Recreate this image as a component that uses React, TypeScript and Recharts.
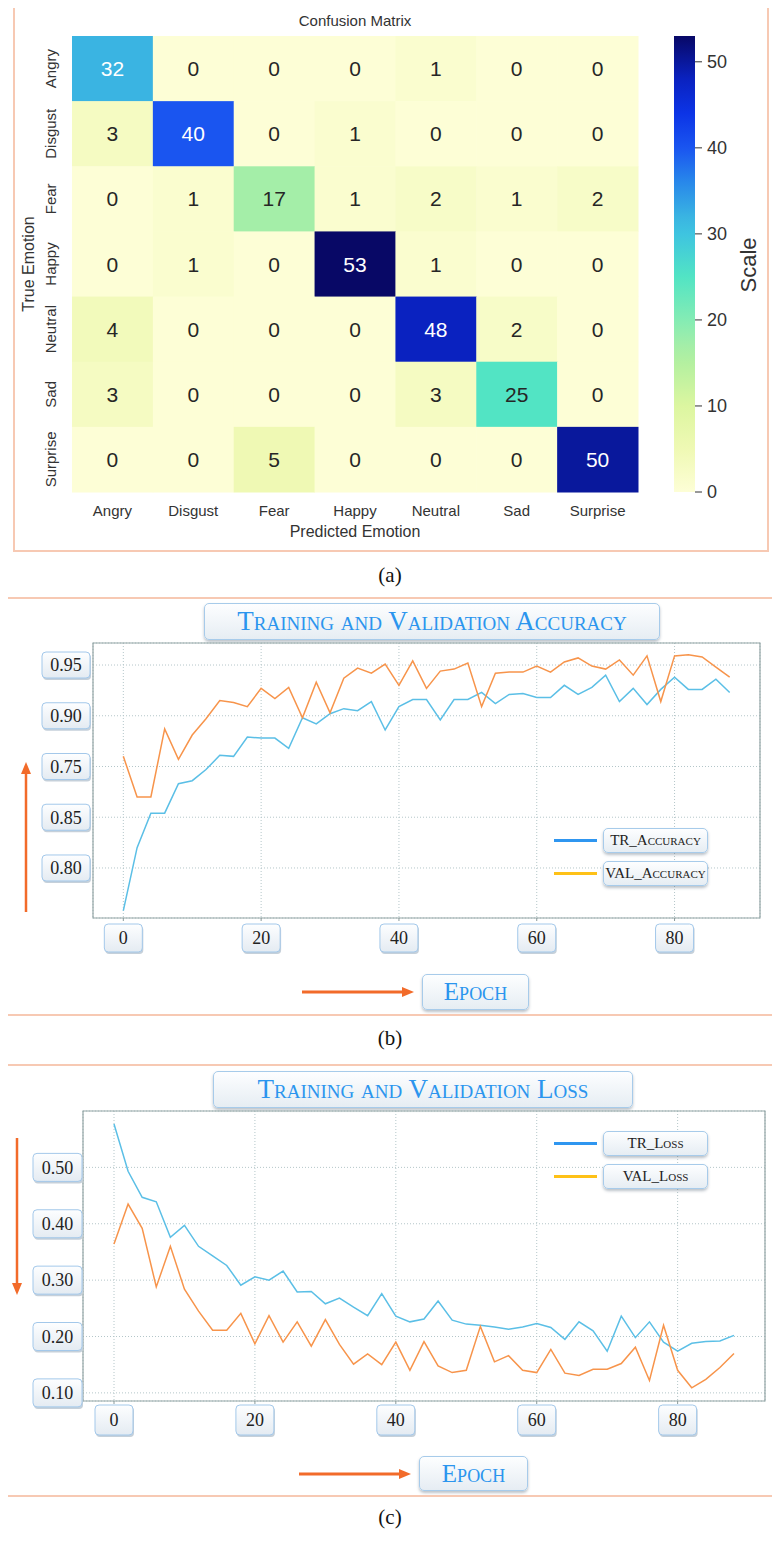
import React from "react"
import {
  ScatterChart,
  Scatter,
  BarChart,
  Bar,
  LineChart,
  Line,
  XAxis,
  YAxis,
  CartesianGrid,
  ReferenceArea,
  Legend,
} from "recharts"

// ---------- data ----------
const emotions = ["Angry", "Disgust", "Fear", "Happy", "Neutral", "Sad", "Surprise"]

// rows = true emotion, columns = predicted emotion
const angryRow = [32, 0, 0, 0, 1, 0, 0]
const disgustRow = [3, 40, 0, 1, 0, 0, 0]
const fearRow = [0, 1, 17, 1, 2, 1, 2]
const happyRow = [0, 1, 0, 53, 1, 0, 0]
const neutralRow = [4, 0, 0, 0, 48, 2, 0]
const sadRow = [3, 0, 0, 0, 3, 25, 0]
const surpriseRow = [0, 0, 5, 0, 0, 0, 50]
const confusion = [angryRow, disgustRow, fearRow, happyRow, neutralRow, sadRow, surpriseRow]

const scaleMax = 53
const scaleTicks = [0, 10, 20, 30, 40, 50]
const scaleStops = [0, 5, 10, 15, 17, 20, 25, 30, 32, 36, 40, 44, 48, 53]
const scaleColors = [
  "#fdfed6", "#eff9b4", "#dcf6a0", "#b4f0a0", "#a4eea8", "#84ecb4", "#52e4c4",
  "#3ec4e0", "#3ab4e2", "#2888ea", "#1a55f0", "#0c34e6", "#0a22c0", "#080866",
]

const epochs = [
  0, 2, 4, 6, 8, 10, 12, 14, 16, 18, 20, 22, 24, 26, 28, 30, 32, 34, 36, 38, 40, 42, 44,
  46, 48, 50, 52, 54, 56, 58, 60, 62, 64, 66, 68, 70, 72, 74, 76, 78, 80, 82, 84, 86, 88,
]
const epochTicks = [0, 20, 40, 60, 80]

const trAccuracy = [
  0.708, 0.77, 0.804, 0.804, 0.833, 0.836, 0.847, 0.861, 0.86, 0.879, 0.878, 0.878, 0.868,
  0.898, 0.892, 0.902, 0.907, 0.905, 0.914, 0.886, 0.909, 0.916, 0.916, 0.896, 0.916, 0.916,
  0.923, 0.912, 0.921, 0.922, 0.918, 0.918, 0.93, 0.921, 0.928, 0.94, 0.914, 0.927, 0.911,
  0.926, 0.938, 0.926, 0.926, 0.936, 0.923,
]
const valAccuracy = [
  0.86, 0.82, 0.82, 0.887, 0.857, 0.881, 0.897, 0.915, 0.913, 0.909, 0.927, 0.917, 0.928,
  0.898, 0.933, 0.903, 0.937, 0.947, 0.942, 0.951, 0.93, 0.954, 0.927, 0.944, 0.946, 0.952,
  0.909, 0.942, 0.943, 0.943, 0.949, 0.943, 0.953, 0.957, 0.949, 0.946, 0.955, 0.94, 0.959,
  0.914, 0.959, 0.96, 0.958, 0.948, 0.938,
]
const accTickValues = [0.75, 0.8, 0.85, 0.9, 0.95]
const accTickLabels = ["0.80", "0.85", "0.75", "0.90", "0.95"]

const trLoss = [
  0.577, 0.493, 0.447, 0.439, 0.376, 0.397, 0.36, 0.343, 0.326, 0.291, 0.306, 0.3, 0.316,
  0.279, 0.28, 0.258, 0.268, 0.252, 0.237, 0.276, 0.236, 0.226, 0.231, 0.263, 0.229, 0.222,
  0.22, 0.217, 0.213, 0.217, 0.223, 0.216, 0.195, 0.226, 0.21, 0.174, 0.236, 0.198, 0.226,
  0.19, 0.174, 0.188, 0.191, 0.192, 0.202,
]
const valLoss = [
  0.364, 0.435, 0.392, 0.288, 0.36, 0.284, 0.245, 0.211, 0.211, 0.241, 0.187, 0.237, 0.19,
  0.226, 0.183, 0.23, 0.186, 0.151, 0.169, 0.15, 0.19, 0.14, 0.191, 0.148, 0.136, 0.14,
  0.218, 0.155, 0.166, 0.14, 0.136, 0.177, 0.135, 0.131, 0.142, 0.142, 0.152, 0.181, 0.122,
  0.22, 0.14, 0.109, 0.124, 0.145, 0.17,
]
const lossTicks = [0.1, 0.2, 0.3, 0.4, 0.5]
const lossTickLabels = ["0.10", "0.20", "0.30", "0.40", "0.50"]

// ---------- helpers ----------
const SERIF = '"Liberation Serif", "Times New Roman", serif'
const SANS = '"Liberation Sans", Arial, sans-serif'
const ORANGE = "#f26b2a"
const PANEL = "#f7c9b3"
const TITLE_BLUE = "#2b95ee"
const legendColors = ["#2f96f0", "#fec117"]

function hexToRgb(h: string) {
  const n = parseInt(h.slice(1), 16)
  return [(n >> 16) & 255, (n >> 8) & 255, n & 255]
}

function colorFor(v: number) {
  for (let i = 1; i < scaleStops.length; i++) {
    if (v <= scaleStops[i]) {
      const t = (v - scaleStops[i - 1]) / (scaleStops[i] - scaleStops[i - 1])
      const a = hexToRgb(scaleColors[i - 1])
      const b = hexToRgb(scaleColors[i])
      const c = a.map((x, k) => Math.round(x + (b[k] - x) * t))
      return `rgb(${c[0]},${c[1]},${c[2]})`
    }
  }
  return scaleColors[scaleColors.length - 1]
}

const cells = confusion.flatMap((r, ri) => r.map((v, ci) => ({ row: ri, col: ci, value: v })))
const accData = epochs.map((e, i) => ({ epoch: e, tr: trAccuracy[i], val: valAccuracy[i] }))
const lossData = epochs.map((e, i) => ({ epoch: e, tr: trLoss[i], val: valLoss[i] }))

// heatmap plot area (page coords, chart sits at 0,0)
const HM = { left: 72, top: 36, right: 638, bottom: 492 }
const cellW = (HM.right - HM.left) / emotions.length
const cellH = (HM.bottom - HM.top) / emotions.length

const boxStyle: React.CSSProperties = {
  position: "absolute",
  boxSizing: "border-box",
  border: "1px solid #a7cbea",
  borderRadius: 5,
  background: "linear-gradient(#fdfeff, #e6edf3)",
  boxShadow: "0 2px 3px rgba(60,80,100,0.35)",
  display: "flex",
  alignItems: "center",
  justifyContent: "center",
  fontFamily: SERIF,
  fontVariant: "small-caps",
  whiteSpace: "nowrap",
}

function TickBox({ cx, cy, w, h, label, gradId }: any) {
  return (
    <g>
      <rect x={cx - w / 2 + 1} y={cy - h / 2 + 2} width={w} height={h} rx={4} fill="#c5d0da" />
      <rect x={cx - w / 2} y={cy - h / 2} width={w} height={h} rx={4} fill={`url(#${gradId})`} stroke="#a3c8ea" />
      <text x={cx} y={cy} dy="0.35em" textAnchor="middle" fontSize={18} fontFamily={SERIF} fill="#222">
        {label}
      </text>
    </g>
  )
}

function HeatCell(props: any) {
  const { cx, cy, payload } = props
  const v = payload.value
  return (
    <g>
      <rect x={cx - cellW / 2} y={cy - cellH / 2} width={cellW + 0.5} height={cellH + 0.5} fill={colorFor(v)} />
      <text
        x={cx}
        y={cy}
        dy="0.36em"
        textAnchor="middle"
        fontSize={21}
        fontFamily={SANS}
        fill={v >= 30 ? "#ffffff" : "#262626"}
      >
        {v}
      </text>
    </g>
  )
}

function legendContent(props: any) {
  const { payload } = props
  return (
    <div style={{ position: "relative" }}>
      {(payload || []).map((p: any, i: number) => (
        <div key={p.value} style={{ display: "flex", alignItems: "center", height: 25, marginBottom: 8 }}>
          <div style={{ width: 43, height: 3, background: legendColors[i], marginRight: 6 }} />
          <div style={{ ...boxStyle, position: "relative", width: 105, height: 25, fontSize: 15, color: "#222" }}>
            {p.value}
          </div>
        </div>
      ))}
    </div>
  )
}

function GradDefs({ id }: { id: string }) {
  return (
    <defs>
      <linearGradient id={id} x1="0" y1="0" x2="0" y2="1">
        <stop offset="0" stopColor="#fdfeff" />
        <stop offset="1" stopColor="#e4ebf2" />
      </linearGradient>
    </defs>
  )
}

export default function App() {
  return (
    <div style={{ position: "relative", width: 780, height: 1541, margin: -8, background: "#fff", overflow: "hidden" }}>
      {/* (a) confusion matrix */}
      <div style={{ position: "absolute", left: 355, top: 20, transform: "translate(-50%,-50%)", fontFamily: SANS, fontSize: 15, color: "#333", whiteSpace: "nowrap" }}>
        Confusion Matrix
      </div>
      <div style={{ position: "absolute", left: 0, top: 0 }}>
        <ScatterChart
          width={780}
          height={560}
          margin={{ top: HM.top, right: 780 - HM.right, bottom: 560 - HM.bottom - 30, left: HM.left - 40 }}
        >
          <XAxis
            type="number"
            dataKey="col"
            domain={[-0.5, emotions.length - 0.5]}
            ticks={emotions.map((_, i) => i)}
            interval={0}
            height={30}
            axisLine={false}
            tickLine={false}
            tick={(p: any) => (
              <text x={p.x} y={HM.bottom + 24} textAnchor="middle" fontSize={15} fontFamily={SANS} fill="#333">
                {emotions[p.payload.value]}
              </text>
            )}
          />
          <YAxis
            type="number"
            dataKey="row"
            domain={[-0.5, emotions.length - 0.5]}
            reversed
            ticks={emotions.map((_, i) => i)}
            interval={0}
            width={40}
            axisLine={false}
            tickLine={false}
            tick={(p: any) => (
              <text
                x={51}
                y={p.y}
                dy="0.35em"
                transform={`rotate(-90 51 ${p.y})`}
                textAnchor="middle"
                fontSize={15}
                fontFamily={SANS}
                fill="#333"
              >
                {emotions[p.payload.value]}
              </text>
            )}
          />
          <Scatter data={cells} shape={HeatCell} isAnimationActive={false} />
        </ScatterChart>
      </div>
      <div style={{ position: "absolute", left: 29, top: 264, transform: "translate(-50%,-50%) rotate(-90deg)", fontFamily: SANS, fontSize: 16, color: "#333", whiteSpace: "nowrap" }}>
        True Emotion
      </div>
      <div style={{ position: "absolute", left: 355, top: 532, transform: "translate(-50%,-50%)", fontFamily: SANS, fontSize: 16, color: "#333", whiteSpace: "nowrap" }}>
        Predicted Emotion
      </div>

      {/* colour bar */}
      <div style={{ position: "absolute", left: 660, top: 0 }}>
        <BarChart
          width={120}
          height={560}
          data={[{ name: "scale", v: scaleMax }]}
          margin={{ top: HM.top, right: 35, bottom: 560 - HM.bottom, left: 14 }}
          barCategoryGap={0}
        >
          <defs>
            <linearGradient id="cbar" x1="0" y1="1" x2="0" y2="0">
              {scaleStops.map((s, i) => (
                <stop key={s} offset={s / scaleMax} stopColor={scaleColors[i]} />
              ))}
            </linearGradient>
          </defs>
          <XAxis dataKey="name" hide />
          <YAxis
            orientation="right"
            domain={[0, scaleMax]}
            ticks={scaleTicks}
            width={50}
            axisLine={false}
            tickSize={7}
            tickMargin={5}
            tickLine={{ stroke: "#333" }}
            tick={{ fontSize: 18, fill: "#333", fontFamily: SANS }}
          />
          <Bar dataKey="v" fill="url(#cbar)" isAnimationActive={false} />
        </BarChart>
      </div>
      <div style={{ position: "absolute", left: 749, top: 265, transform: "translate(-50%,-50%) rotate(-90deg)", fontFamily: SANS, fontSize: 22, color: "#333", whiteSpace: "nowrap" }}>
        Scale
      </div>
      <div style={{ position: "absolute", left: 390, top: 575, transform: "translate(-50%,-50%)", fontFamily: SERIF, fontSize: 21, color: "#111" }}>
        (a)
      </div>

      {/* (b) accuracy */}
      <div style={{ ...boxStyle, left: 204, top: 603, width: 456, height: 37, fontSize: 27, color: TITLE_BLUE }}>
        Training and Validation Accuracy
      </div>
      <div style={{ position: "absolute", left: 0, top: 590 }}>
        <LineChart width={780} height={440} data={accData} margin={{ top: 53, right: 20, bottom: 72, left: 33 }}>
          <GradDefs id="accBox" />
          <CartesianGrid stroke="#b4c6c9" strokeDasharray="1 2" />
          <XAxis
            type="number"
            dataKey="epoch"
            domain={[-4.4, 92.4]}
            ticks={epochTicks}
            allowDataOverflow
            height={40}
            axisLine={false}
            tickSize={3}
            tickLine={{ stroke: "#8a9a9a" }}
            tick={(p: any) => <TickBox cx={p.x} cy={348} w={38} h={28} label={p.payload.value} gradId="accBox" />}
          />
          <YAxis
            type="number"
            domain={[0.7007, 0.9717]}
            ticks={accTickValues}
            allowDataOverflow
            width={60}
            axisLine={false}
            tickLine={false}
            tick={(p: any) => (
              <TickBox cx={66} cy={p.y} w={48} h={26} label={accTickLabels[accTickValues.indexOf(p.payload.value)]} gradId="accBox" />
            )}
          />
          <ReferenceArea x1={-4.4} x2={92.4} y1={0.7007} y2={0.9717} fill="none" stroke="#93a5a6" strokeWidth={1.2} />
          <Line dataKey="tr" name="TR_Accuracy" stroke="#5bbfe6" strokeWidth={1.5} dot={false} isAnimationActive={false} />
          <Line dataKey="val" name="VAL_Accuracy" stroke="#f7944b" strokeWidth={1.5} dot={false} isAnimationActive={false} />
          <Legend
            layout="vertical"
            align="center"
            verticalAlign="middle"
            content={legendContent}
            wrapperStyle={{ left: 554, top: 238, width: 160 }}
          />
        </LineChart>
      </div>
      <div style={{ ...boxStyle, left: 422, top: 974, width: 107, height: 36, fontSize: 25, color: TITLE_BLUE }}>
        Epoch
      </div>
      <div style={{ position: "absolute", left: 390, top: 1038, transform: "translate(-50%,-50%)", fontFamily: SERIF, fontSize: 21, color: "#111" }}>
        (b)
      </div>

      {/* (c) loss */}
      <div style={{ ...boxStyle, left: 213, top: 1071, width: 420, height: 37, fontSize: 27, color: TITLE_BLUE }}>
        Training and Validation Loss
      </div>
      <div style={{ position: "absolute", left: 0, top: 1062 }}>
        <LineChart width={780} height={440} data={lossData} margin={{ top: 49, right: 15, bottom: 61, left: 23 }}>
          <GradDefs id="lossBox" />
          <CartesianGrid stroke="#b4c6c9" strokeDasharray="1 2" />
          <XAxis
            type="number"
            dataKey="epoch"
            domain={[-4.4, 92.4]}
            ticks={epochTicks}
            allowDataOverflow
            height={40}
            axisLine={false}
            tickSize={3}
            tickLine={{ stroke: "#8a9a9a" }}
            tick={(p: any) => <TickBox cx={p.x} cy={358} w={38} h={30} label={p.payload.value} gradId="lossBox" />}
          />
          <YAxis
            type="number"
            domain={[0.0856, 0.6]}
            ticks={lossTicks}
            allowDataOverflow
            width={60}
            axisLine={false}
            tickLine={false}
            tick={(p: any) => (
              <TickBox cx={57.5} cy={p.y} w={49} h={28} label={lossTickLabels[lossTicks.indexOf(p.payload.value)]} gradId="lossBox" />
            )}
          />
          <ReferenceArea x1={-4.4} x2={92.4} y1={0.0856} y2={0.6} fill="none" stroke="#93a5a6" strokeWidth={1.2} />
          <Line dataKey="tr" name="TR_Loss" stroke="#5bbfe6" strokeWidth={1.5} dot={false} isAnimationActive={false} />
          <Line dataKey="val" name="VAL_Loss" stroke="#f7944b" strokeWidth={1.5} dot={false} isAnimationActive={false} />
          <Legend
            layout="vertical"
            align="center"
            verticalAlign="middle"
            content={legendContent}
            wrapperStyle={{ left: 554, top: 69, width: 160 }}
          />
        </LineChart>
      </div>
      <div style={{ ...boxStyle, left: 419, top: 1456, width: 109, height: 35, fontSize: 25, color: TITLE_BLUE }}>
        Epoch
      </div>
      <div style={{ position: "absolute", left: 390, top: 1517, transform: "translate(-50%,-50%)", fontFamily: SERIF, fontSize: 21, color: "#111" }}>
        (c)
      </div>

      {/* panel frames and orange direction arrows */}
      <svg width={780} height={1541} style={{ position: "absolute", left: 0, top: 0, pointerEvents: "none" }}>
        <rect x={14} y={5} width={754} height={546} fill="none" stroke={PANEL} strokeWidth={2} />
        <rect x={6} y={598} width={769} height={417} fill="none" stroke={PANEL} strokeWidth={2} />
        <rect x={6} y={1065} width={769} height={431} fill="none" stroke={PANEL} strokeWidth={2} />
        <line x1={26} y1={912} x2={26} y2={772} stroke={ORANGE} strokeWidth={2.5} />
        <polygon points="26,762 21,774 31,774" fill={ORANGE} />
        <line x1={302} y1={992} x2={404} y2={992} stroke={ORANGE} strokeWidth={3} />
        <polygon points="414,992 402,987 402,997" fill={ORANGE} />
        <line x1={17} y1={1138} x2={17} y2={1285} stroke={ORANGE} strokeWidth={2.5} />
        <polygon points="17,1295 12,1283 22,1283" fill={ORANGE} />
        <line x1={299} y1={1474} x2={401} y2={1474} stroke={ORANGE} strokeWidth={3} />
        <polygon points="411,1474 399,1469 399,1479" fill={ORANGE} />
      </svg>
    </div>
  )
}
